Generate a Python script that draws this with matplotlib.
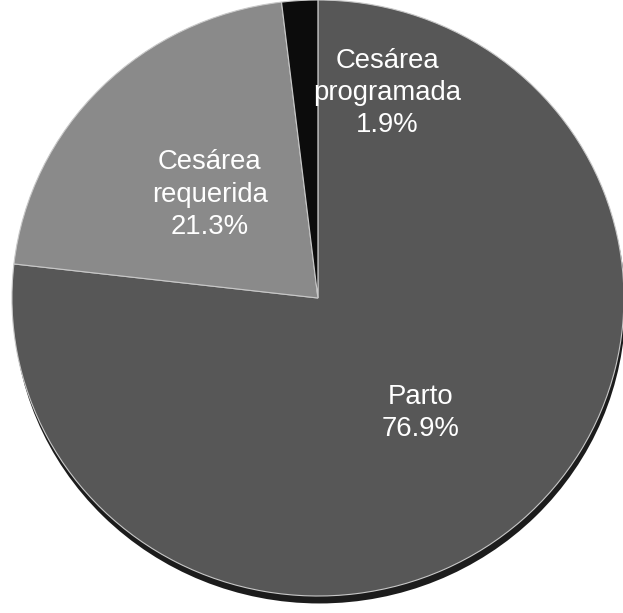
import matplotlib
matplotlib.use("Agg")
import matplotlib.pyplot as plt
from matplotlib.patches import Ellipse

plt.rcParams["font.family"] = ["Liberation Sans", "DejaVu Sans"]

categories = ["Parto", "Cesárea\nrequerida", "Cesárea\nprogramada"]
percentages = [76.9, 21.3, 1.9]
colors = ["#575757", "#8a8a8a", "#0c0c0c"]

# label centres in data units (pie radius = 1)
label_pos = [(0.335, -0.385), (-0.353, 0.347), (0.226, 0.688)]

fig = plt.figure(figsize=(6.23, 6.13), dpi=100)
ax = fig.add_axes([0, 0, 1, 1])

# drop shadow under the pie
shadow = Ellipse((0.005, -0.025), 2.0, 2.0, facecolor="#1c1c1c",
                 edgecolor="none", zorder=0)
ax.add_patch(shadow)

wedges, _ = ax.pie(
    percentages,
    colors=colors,
    startangle=90,
    counterclock=False,
    radius=1.0,
    wedgeprops=dict(edgecolor="#c8c8c8", linewidth=0.8),
)
for w in wedges:
    w.set_zorder(1)

for name, pct, (x, y) in zip(categories, percentages, label_pos):
    ax.text(x, y, f"{name}\n{pct:.1f}%", ha="center", va="center",
            color="white", fontsize=19.8, linespacing=1.32, zorder=3)

ax.set_aspect("auto")
ax.set_xlim(-1.039, 0.997)
ax.set_ylim(-1.057, 1.0)
ax.set_axis_off()

fig.savefig("out.png", dpi=100, facecolor="white")
